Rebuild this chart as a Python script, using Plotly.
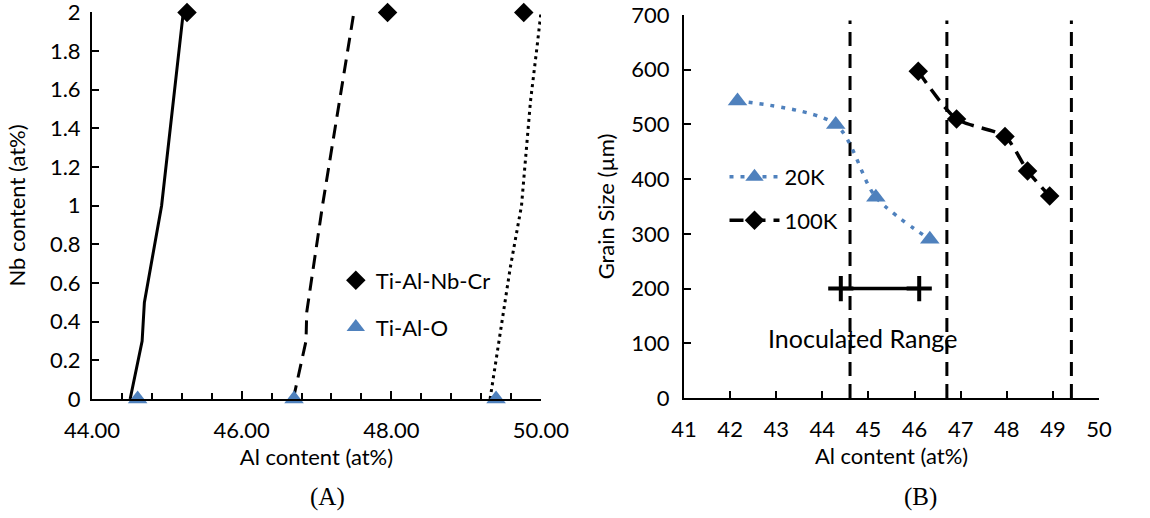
import plotly.graph_objects as go

# ---------------- Panel A data ----------------
solid_x = [44.51, 44.67, 44.70, 44.93, 45.22]
solid_y = [0, 0.3, 0.5, 1.0, 2.0]
dashed_x = [46.69, 46.86, 46.87, 47.08, 47.50]
dashed_y = [0, 0.3, 0.45, 1.0, 2.0]
dotted_x = [49.32, 49.45, 49.59, 49.74, 49.86, 49.95, 50.0]
dotted_y = [0, 0.34, 0.68, 1.0, 1.54, 1.83, 2.0]
nbcr_x = [45.27, 47.95, 49.77]
nbcr_y = [2, 2, 2]
tialo_x = [44.61, 46.70, 49.40]
tialo_y = [0, 0, 0]
a_yticks = [0, 0.2, 0.4, 0.6, 0.8, 1, 1.2, 1.4, 1.6, 1.8, 2]
a_yticklabels = ["0", "0.2", "0.4", "0.6", "0.8", "1", "1.2", "1.4", "1.6", "1.8", "2"]

# ---------------- Panel B data ----------------
k20_x = [42.16, 44.29, 45.16, 46.33]
k20_y = [543, 500, 367, 290]
k100_x = [46.08, 46.91, 47.96, 48.45, 48.93]
k100_y = [597, 510, 478, 415, 369]
bound_x = [44.6, 46.7, 49.4]
bound_y = [0, 690]
inoc_x = [44.4, 46.1]
inoc_y = [200, 200]

FONT = "Lato"
FS = 22
DASH = "14px,8px"
fig = go.Figure()

# Panel A lines
fig.add_trace(go.Scatter(x=solid_x, y=solid_y, mode="lines", line=dict(color="black", width=3),
                         xaxis="x", yaxis="y", showlegend=False))
fig.add_trace(go.Scatter(x=dashed_x, y=dashed_y, mode="lines",
                         line=dict(color="black", width=3, dash=DASH),
                         xaxis="x", yaxis="y", showlegend=False))
fig.add_trace(go.Scatter(x=dotted_x, y=dotted_y, mode="lines",
                         line=dict(color="black", width=3, dash="3px,4px"),
                         xaxis="x", yaxis="y", showlegend=False))
fig.add_trace(go.Scatter(x=nbcr_x, y=nbcr_y, mode="markers", name="Ti-Al-Nb-Cr",
                         marker=dict(symbol="diamond", size=15, color="black"),
                         xaxis="x", yaxis="y", cliponaxis=False, legend="legend", legendgroup="a1"))
fig.add_trace(go.Scatter(x=tialo_x, y=tialo_y, mode="markers", name="Ti-Al-O",
                         marker=dict(symbol="triangle-up", size=17, color="#4F81BD"),
                         xaxis="x", yaxis="y", cliponaxis=False, legend="legend", legendgroup="a2"))

# Panel B
for bx in bound_x:
    fig.add_trace(go.Scatter(x=[bx, bx], y=bound_y, mode="lines",
                             line=dict(color="black", width=3, dash=DASH),
                             xaxis="x2", yaxis="y2", showlegend=False))
fig.add_trace(go.Scatter(x=inoc_x, y=inoc_y, mode="lines+markers",
                         line=dict(color="black", width=3.5),
                         marker=dict(symbol="cross-thin", size=18, line=dict(color="black", width=4)),
                         xaxis="x2", yaxis="y2", showlegend=False, cliponaxis=False))
fig.add_trace(go.Scatter(x=k20_x, y=k20_y, mode="lines+markers", name="20K",
                         line=dict(color="#4F81BD", width=3.5, dash="4px,7px", shape="spline", smoothing=0.8),
                         marker=dict(symbol="triangle-up", size=17, color="#4F81BD"),
                         xaxis="x2", yaxis="y2", legend="legend2", legendgroup="b1"))
fig.add_trace(go.Scatter(x=k100_x, y=k100_y, mode="lines+markers", name="100K",
                         line=dict(color="black", width=3.5, dash=DASH, shape="spline", smoothing=0.7),
                         marker=dict(symbol="diamond", size=15, color="black"),
                         xaxis="x2", yaxis="y2", legend="legend2", legendgroup="b2"))

axis_common = dict(showgrid=False, zeroline=False, showline=True, linecolor="black", linewidth=2,
                   tickcolor="black", tickwidth=2, automargin=False, ticklabeloverflow="allow",
                   tickfont=dict(family=FONT, size=FS, color="black"))

fig.update_layout(
    width=1150, height=518,
    margin=dict(l=0, r=0, t=0, b=0, autoexpand=False),
    paper_bgcolor="white", plot_bgcolor="white",
    font=dict(family=FONT, size=FS, color="black"),
    xaxis=dict(domain=[0.080, 0.4704], range=[44, 50], dtick=2, tick0=44, tickformat=".2f",
               ticks="inside", ticklen=8, ticklabelstandoff=11,
               minor=dict(dtick=0.4, tick0=44, ticks="inside", ticklen=6, tickcolor="black", tickwidth=1.5),
               title=dict(text="Al content (at%)", font=dict(family=FONT, size=FS), standoff=2),
               anchor="y", **axis_common),
    xaxis3=dict(domain=[0.080, 0.4704], range=[44, 50], dtick=2, tick0=44, overlaying="x",
                showticklabels=False, ticks="outside", ticklen=8, anchor="y", automargin=False,
                showgrid=False, zeroline=False, showline=False, tickcolor="black", tickwidth=2),
    yaxis=dict(domain=[0.2297, 0.9768], range=[0, 2.002], tickmode="array", tickvals=a_yticks,
               ticktext=a_yticklabels, ticks="inside", ticklen=7, ticklabelstandoff=5,
               title=dict(text="Nb content (at%)", font=dict(family=FONT, size=FS), standoff=18),
               anchor="x", **axis_common),
    xaxis2=dict(domain=[0.5948, 0.9557], range=[41, 50], dtick=1, ticks="inside", ticklen=7,
                ticklabelstandoff=11,
                title=dict(text="Al content (at%)", font=dict(family=FONT, size=FS), standoff=2),
                anchor="y2", **axis_common),
    yaxis2=dict(domain=[0.2317, 0.971], range=[0, 700], dtick=100, ticks="inside", ticklen=7,
                ticklabelstandoff=8,
                title=dict(text="Grain Size (µm)", font=dict(family=FONT, size=FS), standoff=11),
                anchor="x2", **axis_common),
    legend=dict(x=0.292, y=0.499, xanchor="left", yanchor="top", bgcolor="rgba(0,0,0,0)",
                font=dict(family=FONT, size=FS), tracegroupgap=15, itemwidth=30),
    legend2=dict(x=0.630, y=0.699, xanchor="left", yanchor="top", bgcolor="rgba(0,0,0,0)",
                 font=dict(family=FONT, size=FS), tracegroupgap=12, itemwidth=50),
    annotations=[
        dict(text="Inoculated Range", x=44.88, y=110, xref="x2", yref="y2", showarrow=False,
             font=dict(family=FONT, size=25, color="black")),
        dict(text="(A)", x=327 / 1150, y=1 - 497 / 518, xref="paper", yref="paper", showarrow=False,
             xanchor="center", yanchor="middle",
             font=dict(family="Liberation Serif", size=25, color="black")),
        dict(text="(B)", x=920 / 1150, y=1 - 497 / 518, xref="paper", yref="paper", showarrow=False,
             xanchor="center", yanchor="middle",
             font=dict(family="Liberation Serif", size=25, color="black")),
    ],
)

fig.write_html("out.html", post_script="document.body.style.margin='0';",
               config={"displayModeBar": False})
